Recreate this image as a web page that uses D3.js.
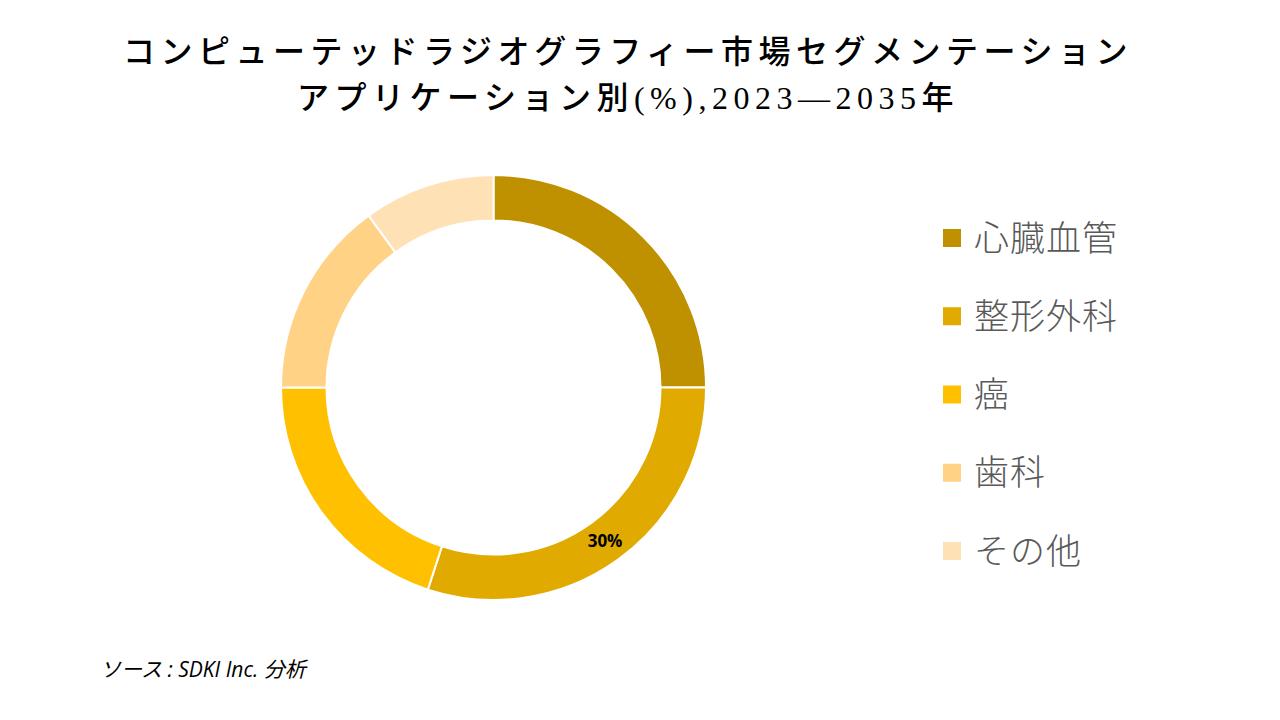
<!DOCTYPE html>
<html>
<head>
<meta charset="utf-8">
<script src="https://cdn.jsdelivr.net/npm/d3@7"></script>
<style>
html,body{margin:0;padding:0;background:#fff;}
svg{display:block;}
</style>
</head>
<body>
<svg id="chart" width="1280" height="720"></svg>
<script>
const titleLines = ["コンピューテッドラジオグラフィー市場セグメンテーション", "アプリケーション別(%),2023—2035年"];
const categories = ["心臓血管", "整形外科", "癌", "歯科", "その他"];
const values = [25, 30, 20, 15, 10];
const colors = ["#BF9000", "#E0AA00", "#FFC000", "#FFD285", "#FFE1B6"];
const shownLabels = [false, true, false, false, false];
const sourceText = "ソース : SDKI Inc. 分析";

const svg = d3.select("#chart");
svg.append("rect").attr("width",1280).attr("height",720).attr("fill","#fff");

const title = svg.append("text")
  .attr("x", 628).attr("y", 63)
  .attr("text-anchor","middle")
  .attr("font-family","'Liberation Serif','DejaVu Serif','Noto Sans CJK JP',serif")
  .attr("font-size", 32).attr("font-weight",500).attr("fill","#000")
  .attr("letter-spacing", 5.5);
titleLines.forEach((t,i)=>{
  title.append("tspan").attr("x",628).attr("dy", i===0?0:46).text(t);
});

const cx = 493.5, cy = 387.5, rOuter = 212.5, rInner = 167;
const g = svg.append("g").attr("transform",`translate(${cx},${cy})`);
const pie = d3.pie().sort(null).value(d=>d.v);
const data = categories.map((c,i)=>({c, v: values[i], color: colors[i], show: shownLabels[i]}));
const arcs = pie(data);
const arc = d3.arc().innerRadius(rInner).outerRadius(rOuter);
g.selectAll("path").data(arcs).enter().append("path")
  .attr("d", arc)
  .attr("fill", d=>d.data.color)
  .attr("stroke","#fff").attr("stroke-width",2);

const labelArc = d3.arc().innerRadius((rInner+rOuter)/2).outerRadius((rInner+rOuter)/2);
g.selectAll("text.lbl").data(arcs.filter(d=>d.data.show)).enter().append("text")
  .attr("class","lbl")
  .attr("transform", d=>`translate(${labelArc.centroid(d)})`)
  .attr("text-anchor","middle").attr("dy","0.35em")
  .attr("font-family","'Open Sans','Noto Sans',sans-serif")
  .attr("font-size",17).attr("font-weight","bold").attr("fill","#000")
  .text(d=>d.data.v + "%");

const legY = d3.scalePoint().domain(categories).range([238, 551]);
const leg = svg.append("g");
const items = leg.selectAll("g").data(data).enter().append("g")
  .attr("transform", d=>`translate(943,${legY(d.c)})`);
items.append("rect").attr("x",0).attr("y",-9).attr("width",18).attr("height",18).attr("fill",d=>d.color);
items.append("text").attr("x",31).attr("y",0).attr("dy","0.36em")
  .attr("font-family","'Noto Sans CJK JP','Noto Sans',sans-serif")
  .attr("font-size",35).attr("font-weight",300).attr("fill","#595959")
  .attr("letter-spacing",1)
  .text(d=>d.c);

svg.append("text").attr("x",100).attr("y",677)
  .attr("font-family","'Open Sans','Noto Sans CJK JP',sans-serif")
  .attr("font-style","italic").attr("font-size",21).attr("fill","#000")
  .text(sourceText);
</script>
</body>
</html>
